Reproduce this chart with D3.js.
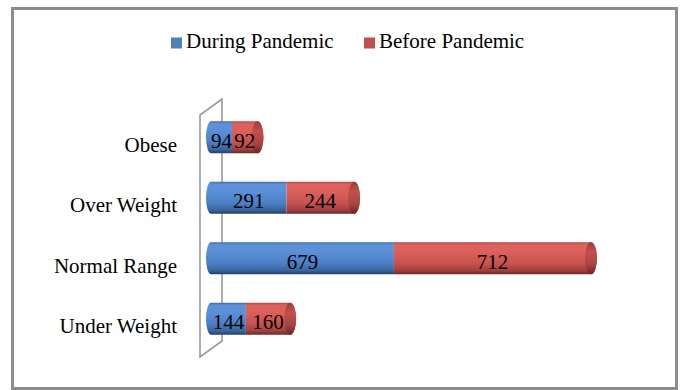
<!DOCTYPE html>
<html>
<head>
<meta charset="utf-8">
<script src="https://cdn.jsdelivr.net/npm/d3@7/dist/d3.min.js"></script>
<style>
  html, body { margin: 0; padding: 0; background: #fff; }
  svg { display: block; }
  text { font-family: "Liberation Serif", "Times New Roman", serif; fill: #000; }
</style>
</head>
<body>
<svg id="chart" width="680" height="390"></svg>
<script>
// BMI categories, bottom to top as listed on the axis
const categories = ["Obese", "Over Weight", "Normal Range", "Under Weight"];
const seriesNames = ["During Pandemic", "Before Pandemic"];
const duringPandemic = [94, 291, 679, 144];
const beforePandemic = [92, 244, 712, 160];

const svg = d3.select("#chart");
const defs = svg.append("defs");

// Cylinder shading for each series (vertical gradient across the bar)
const shading = [
  { id: "gBlue", stops: [[0, "#3f6cab"], [0.08, "#5d92da"], [0.3, "#5b90d8"], [0.65, "#4c80c6"], [0.88, "#3a659f"], [1, "#233f66"]] },
  { id: "gRed",  stops: [[0, "#b24a47"], [0.08, "#df625d"], [0.3, "#dc605b"], [0.65, "#c95350"], [0.88, "#a2403d"], [1, "#6e2624"]] },
  { id: "gCap",  stops: [[0, "#9a3c39"], [0.3, "#c2504c"], [0.7, "#a84441"], [1, "#6a2523"]] }
];
shading.forEach(g => {
  const lg = defs.append("linearGradient").attr("id", g.id)
    .attr("x1", 0).attr("y1", 0).attr("x2", 0).attr("y2", 1);
  g.stops.forEach(([o, c]) => lg.append("stop").attr("offset", o).attr("stop-color", c));
});
const legendColors = ["#4f81bd", "#c0504d"];
const fills = ["url(#gBlue)", "url(#gRed)"];

// Outer frame
svg.append("rect")
  .attr("x", 12.5).attr("y", 8.5).attr("width", 664).attr("height", 380)
  .attr("fill", "#fff").attr("stroke", "#8c8c8c").attr("stroke-width", 3);

// Legend
const legend = svg.append("g");
const legendX = [171, 364];
seriesNames.forEach((name, i) => {
  legend.append("rect").attr("x", legendX[i]).attr("y", 37.5)
    .attr("width", 11).attr("height", 11).attr("fill", legendColors[i]);
  legend.append("text").attr("x", legendX[i] + 15).attr("y", 48)
    .attr("font-size", 21).text(name);
});

// Scales
const totals = categories.map((c, i) => duringPandemic[i] + beforePandemic[i]);
const x = d3.scaleLinear().domain([0, d3.max(totals)]).range([206, 591]);
const y = d3.scaleBand().domain(categories).range([115, 357]).paddingInner(0);

// 3D wall depth offset
const depth = { dx: 22, dy: -16 };
const frontX = 200;
const barH = 32;
const capRx = 6;
const leftRx = 5;

// Category wall (back edge, side diagonals, front edge)
const [y0, y1] = y.range();
svg.append("path")
  .attr("d", `M${frontX},${y0} L${frontX + depth.dx},${y0 + depth.dy} L${frontX + depth.dx},${y1 + depth.dy} L${frontX},${y1} Z`)
  .attr("fill", "none").attr("stroke", "#9a9a9a").attr("stroke-width", 1.6);

// Category labels
svg.append("g").selectAll("text").data(categories).join("text")
  .attr("x", 177)
  .attr("y", d => y(d) + y.bandwidth() / 2)
  .attr("dy", "0.32em")
  .attr("text-anchor", "end")
  .attr("font-size", 21)
  .text(d => d);

// Cylinder bars
const bars = svg.append("g");
categories.forEach((cat, i) => {
  const cy = y(cat) + y.bandwidth() / 2 + depth.dy / 2;
  const top = cy - barH / 2, bot = cy + barH / 2;
  const segs = [
    { s: 0, v0: 0, v1: duringPandemic[i] },
    { s: 1, v0: duringPandemic[i], v1: totals[i] }
  ];
  segs.forEach(sg => {
    const xa = x(sg.v0), xb = x(sg.v1);
    let d;
    if (sg.s === 0) {
      d = `M${xa + leftRx},${top} L${xb},${top} L${xb},${bot} L${xa + leftRx},${bot} A${leftRx},${barH / 2} 0 0 1 ${xa + leftRx},${top} Z`;
    } else {
      d = `M${xa},${top} L${xb},${top} A${capRx},${barH / 2} 0 0 1 ${xb},${bot} L${xa},${bot} Z`;
    }
    bars.append("path").attr("d", d).attr("fill", fills[sg.s]);
  });
  // End face of the cylinder
  bars.append("ellipse")
    .attr("cx", x(totals[i])).attr("cy", cy)
    .attr("rx", capRx).attr("ry", barH / 2)
    .attr("fill", "url(#gCap)");

  // Value labels centred in each segment
  segs.forEach(sg => {
    bars.append("text")
      .attr("x", (x(sg.v0) + x(sg.v1)) / 2 + (sg.s === 0 ? leftRx / 2 : 0))
      .attr("y", cy + 3)
      .attr("dy", "0.35em")
      .attr("text-anchor", "middle")
      .attr("font-size", 21)
      .text(sg.v1 - sg.v0);
  });
});
</script>
</body>
</html>
